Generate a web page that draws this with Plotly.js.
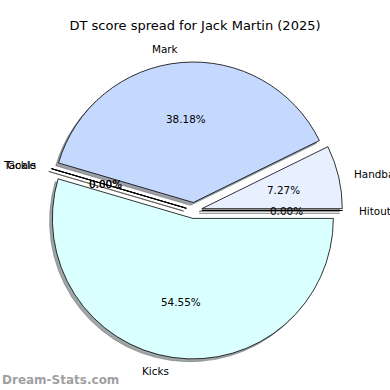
<!DOCTYPE html>
<html>
<head>
<meta charset="utf-8">
<script src="https://cdn.plot.ly/plotly-3.0.1.min.js"></script>
<style>html,body{margin:0;padding:0;background:#fff;}#chart{width:390px;height:390px;}</style>
</head>
<body>
<div id="chart"></div>
<script>
// Data (DT points by stat, 2025)
const labels = ["Hitouts", "Handball", "Mark", "Tackle", "Goals", "Kicks"];
const values = [0, 4, 21, 0, 0, 30];
const colors = ["#f2f6ff", "#e8f0ff", "#c5d9ff", "#ffe8e8", "#fff3d9", "#d9ffff"];
const titleText = "DT score spread for Jack Martin (2025)";

// Layout geometry (pixels)
const W = 390, H = 390;
const cx = 194, cy = 210.5, R = 140.5, pullPx = 8;
const pull = pullPx / R;
const half = R * (1 + pull);
const shadowOff = 2.8;

function dom(x0, y0) {
  return {
    x: [(x0 - half) / W, (x0 + half) / W],
    y: [1 - (y0 + half) / H, 1 - (y0 - half) / H]
  };
}

const total = values.reduce((a, b) => a + b, 0);

const shadowColors = colors.map(c => {
  const r = parseInt(c.slice(1, 3), 16) * 0.3, g = parseInt(c.slice(3, 5), 16) * 0.3, b = parseInt(c.slice(5, 7), 16) * 0.3;
  return `rgba(${Math.round(r)},${Math.round(g)},${Math.round(b)},0.5)`;
});

const common = {
  type: "pie",
  labels: labels,
  values: values,
  sort: false,
  direction: "counterclockwise",
  rotation: 90,
  pull: values.map(() => pull),
  textinfo: "none",
  hoverinfo: "skip",
  showlegend: false
};

const shadow = Object.assign({}, common, {
  name: "shadow",
  domain: dom(cx - shadowOff, cy + shadowOff),
  marker: { colors: shadowColors, line: { color: shadowColors, width: 0.8 } }
});
const main = Object.assign({}, common, {
  name: "main",
  domain: dom(cx, cy),
  marker: { colors: colors, line: { color: "#000000", width: 0.8 } }
});

// Labels placed like matplotlib (labeldistance 1.1, pctdistance 0.6)
const fontSize = 10.4;
const annotations = [];
let start = 0;
values.forEach((v, i) => {
  const frac = v / total;
  const mid = (start + frac / 2) * 2 * Math.PI;
  start += frac;
  const ox = cx + pullPx * Math.cos(mid), oy = cy - pullPx * Math.sin(mid);
  const lx = ox + 1.1 * R * Math.cos(mid), ly = oy - 1.1 * R * Math.sin(mid);
  annotations.push({
    xref: "paper", yref: "paper", x: lx / W, y: 1 - ly / H,
    xanchor: Math.cos(mid) >= 0 ? "left" : "right", yanchor: "middle",
    text: labels[i], showarrow: false,
    font: { family: "DejaVu Sans", size: fontSize, color: "#000" }
  });
  const px = ox + 0.6 * R * Math.cos(mid), py = oy - 0.6 * R * Math.sin(mid);
  annotations.push({
    xref: "paper", yref: "paper", x: px / W, y: 1 - py / H,
    xanchor: "center", yanchor: "middle",
    text: (frac * 100).toFixed(2) + "%", showarrow: false,
    font: { family: "DejaVu Sans", size: fontSize, color: "#000" }
  });
});
annotations.push({
  xref: "paper", yref: "paper", x: 0, y: 1 - 380 / H,
  xanchor: "left", yanchor: "middle",
  text: "<b>Dream-Stats.com</b>", showarrow: false,
  font: { family: "DejaVu Sans", size: 12, color: "rgba(128,128,128,0.75)" }
});

const layout = {
  width: W, height: H,
  margin: { l: 0, r: 0, t: 0, b: 0 },
  paper_bgcolor: "#ffffff",
  title: {
    text: titleText,
    font: { family: "DejaVu Sans", size: 13, color: "#000" },
    x: 0.5, xanchor: "center", y: 1 - 25 / H, yanchor: "middle"
  },
  showlegend: false,
  annotations: annotations
};

Plotly.newPlot("chart", [shadow, main], layout, { displayModeBar: false, staticPlot: true });
</script>
</body>
</html>
